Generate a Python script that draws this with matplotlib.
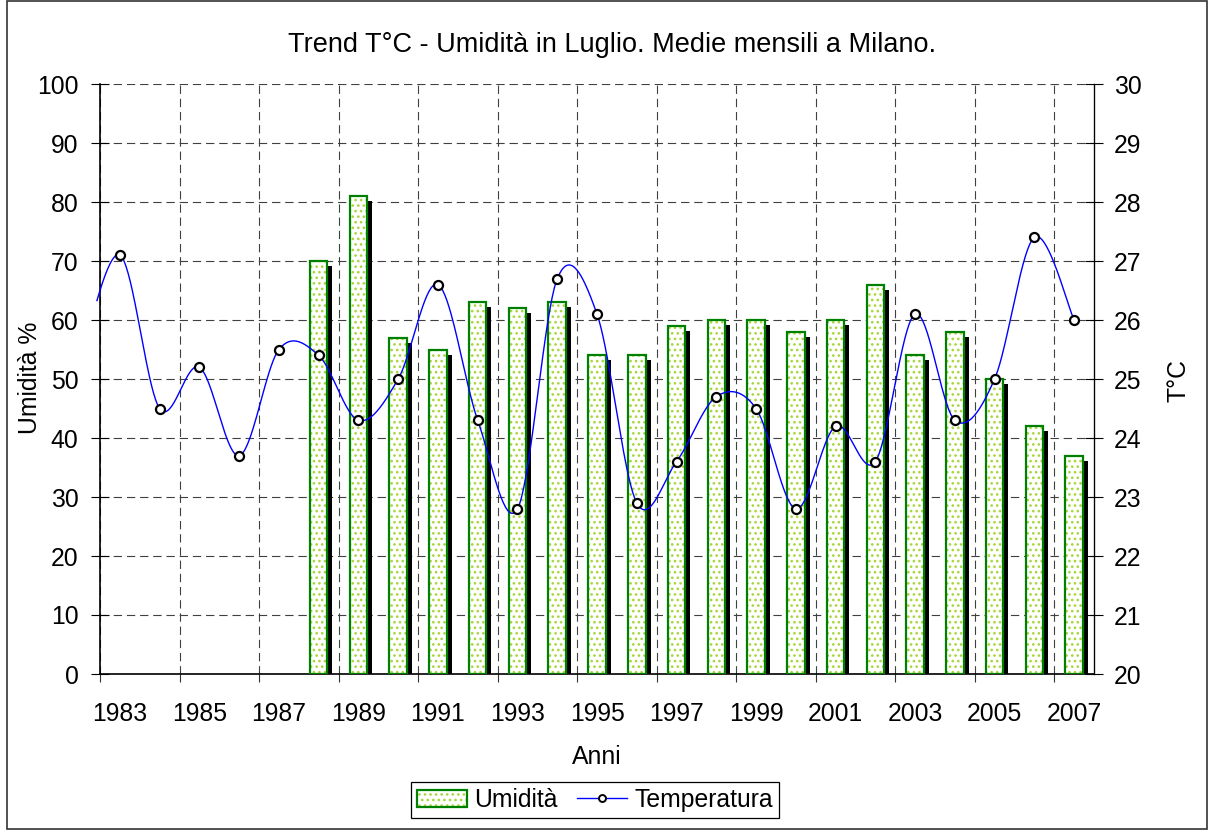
import numpy as np
import matplotlib
matplotlib.use("Agg")
import matplotlib.pyplot as plt
from matplotlib.patches import Patch, Rectangle
from matplotlib.lines import Line2D
from matplotlib.transforms import ScaledTranslation
from matplotlib.legend_handler import HandlerTuple

plt.rcParams['font.family'] = ['Liberation Sans', 'DejaVu Sans']
plt.rcParams['hatch.linewidth'] = 1.1
plt.rcParams['lines.scale_dashes'] = False

# ---------------- data ----------------
years = list(range(1983, 2008))
hum_years = list(range(1988, 2008))
humidity = [70, 81, 57, 55, 63, 62, 63, 54, 54, 59,
            60, 60, 58, 60, 66, 54, 58, 50, 42, 37]
temperature = [27.1, 24.5, 25.2, 23.7, 25.5, 25.4, 24.3, 25.0, 26.6, 24.3,
               22.8, 26.7, 26.1, 22.9, 23.6, 24.7, 24.5, 22.8, 24.2, 23.6,
               26.1, 24.3, 25.0, 27.4, 26.0]
temp_1982 = 25.3          # preceding value, only its curve tail is visible
xtick_years = list(range(1983, 2008, 2))
title = "Trend T°C - Umidità in Luglio. Medie mensili a Milano."

W, H = 1208, 830
fig = plt.figure(figsize=(W / 100, H / 100), dpi=100)
fig.patch.set_facecolor('white')
ax = fig.add_axes([100 / W, 1 - 674 / H, 994 / W, 590 / H])
ax2 = ax.twinx()

idx = {y: i for i, y in enumerate(years)}
xb = np.array([idx[y] for y in hum_years], dtype=float)
bw = 0.44

# shadows
shadow = ax.bar(xb, humidity, bw, color='black', linewidth=0, zorder=2)
off = ScaledTranslation(5 / 100, -5 / 100, fig.dpi_scale_trans)
for p in shadow:
    p.set_transform(ax.transData + off)
# hatched fill
ax.bar(xb, humidity, bw, facecolor='white', edgecolor='#a6d63a',
       hatch='...', linewidth=0, zorder=3)
# outline
ax.bar(xb, humidity, bw, fill=False, edgecolor='#008000', linewidth=1.6, zorder=4)

ax.set_xlim(-0.5, len(years) - 0.5)
ax.set_ylim(0, 100)
ax.set_yticks(range(0, 101, 10))
ax.set_xticks([idx[y] for y in xtick_years])
ax.set_xticklabels([str(y) for y in xtick_years])
ax.set_xticks(np.arange(-0.5, len(years) - 1, 2), minor=True)

ax.tick_params(axis='x', which='major', length=0, pad=20, labelsize=17.8)
ax.tick_params(axis='x', which='minor', direction='out', length=6, width=0.8, color='#333333')
ax.tick_params(axis='y', direction='inout', length=13, width=0.8, pad=9, labelsize=17.8)

ax.grid(True, axis='y', which='major', color='#404040', linewidth=0.8, linestyle=(0, (6, 3.5)))
ax.grid(True, axis='x', which='minor', color='#404040', linewidth=0.8, linestyle=(0, (6, 3.5)))
ax.set_axisbelow(True)

for s in ['top']:
    ax.spines[s].set_visible(False)
    ax2.spines[s].set_visible(False)
ax.spines['left'].set_linewidth(1.2)
ax.spines['bottom'].set_linewidth(1.2)
ax2.spines['right'].set_linewidth(0.9)
ax2.spines['left'].set_visible(False)
ax2.spines['bottom'].set_visible(False)

# temperature (secondary axis)
ax2.set_ylim(20, 30)
ax2.set_yticks(range(20, 31))
ax2.tick_params(axis='y', direction='inout', length=13, width=0.8, pad=8, labelsize=17.8)


def excel_smooth(x, y, n=40):
    pts = np.column_stack([x, y]).astype(float)
    P = np.vstack([pts[0], pts, pts[-1]])
    out = []
    t = np.linspace(0, 1, n)[:, None]
    for i in range(len(pts) - 1):
        p0, p1, p2, p3 = P[i], P[i + 1], P[i + 2], P[i + 3]
        b0, b3 = p1, p2
        b1 = p1 + (p2 - p0) / 6
        b2 = p2 - (p3 - p1) / 6
        seg = (1 - t) ** 3 * b0 + 3 * (1 - t) ** 2 * t * b1 + 3 * (1 - t) * t ** 2 * b2 + t ** 3 * b3
        out.append(seg if i == 0 else seg[1:])
    return np.vstack(out)


xt = np.arange(len(years), dtype=float)
curve = excel_smooth(np.concatenate([[-1.0], xt]), np.concatenate([[temp_1982], temperature]))
curve = curve[curve[:, 0] >= -0.6]
ax2.plot(curve[:, 0], curve[:, 1], color='#0000ff', linewidth=1.0, zorder=5, clip_on=False)
ax2.plot(xt, temperature, linestyle='none', marker='o', markersize=6.5,
         markerfacecolor='white', markeredgecolor='black', markeredgewidth=1.6, zorder=6)
ax2.set_xlim(-0.5, len(years) - 0.5)

# texts
fig.text(612 / W, 1 - 45 / H, title, ha='center', va='center', fontsize=19.5)
fig.text(597 / W, 1 - 757 / H, "Anni", ha='center', va='center', fontsize=17.8)
fig.text(30 / W, 1 - 378 / H, "Umidità %", ha='center', va='center', rotation=90, fontsize=17.8)
fig.text(1178 / W, 1 - 381 / H, "T°C", ha='center', va='center', rotation=90, fontsize=17.8)

# legend
h_hum = (Patch(facecolor='white', edgecolor='#a6d63a', hatch='...', linewidth=0),
         Patch(fill=False, edgecolor='#008000', linewidth=1.6))
h_tmp = Line2D([], [], color='#0000ff', linewidth=1.0, marker='o', markersize=5,
               markerfacecolor='white', markeredgecolor='black', markeredgewidth=1.4)
leg = fig.legend([h_hum, h_tmp], ["Umidità", "Temperatura"], ncol=2,
                 loc='center', bbox_to_anchor=(595 / W, 1 - 800 / H),
                 handler_map={tuple: HandlerTuple(ndivide=1)},
                 fontsize=17.8, frameon=True, fancybox=False, edgecolor='black',
                 framealpha=1, handlelength=2.0, handletextpad=0.3, columnspacing=0.8,
                 borderpad=0.25)
leg.get_frame().set_linewidth(0.9)

# figure border
fig.add_artist(Rectangle((7 / W, 1 / H), 1199.5 / W, 827.5 / H, transform=fig.transFigure,
                         fill=False, edgecolor='#333333', linewidth=1.2))

fig.savefig("out.png", dpi=100)
